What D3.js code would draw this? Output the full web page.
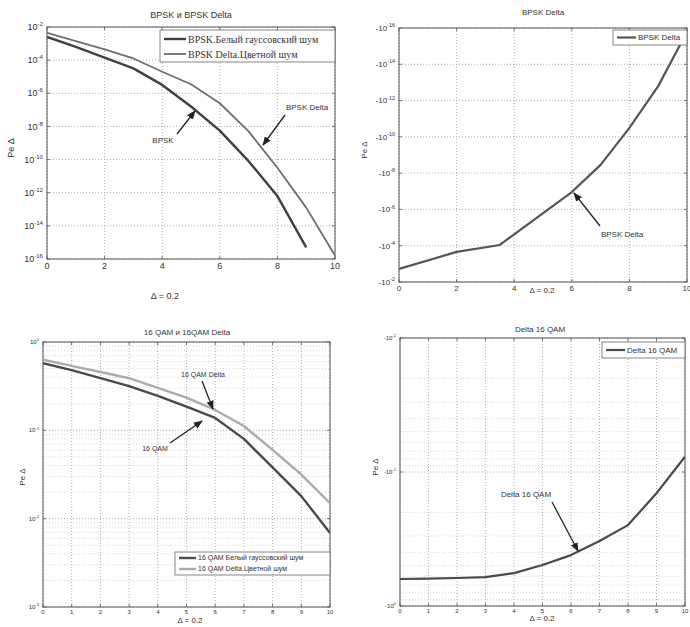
<!DOCTYPE html>
<html>
<head>
<meta charset="utf-8">
<script src="https://cdn.jsdelivr.net/npm/d3@7"></script>
<style>
body { margin: 0; background: #fff; }
text { font-family: "Liberation Sans", Arial, sans-serif; fill: #333; }
.grid line { stroke: #9a9a9a; stroke-dasharray: 1,2; stroke-width: 0.8; }
.minor line { stroke: #c4c4c4; stroke-dasharray: 1,2; stroke-width: 0.7; }
.frame { fill: none; stroke: #555; stroke-width: 1; }
</style>
</head>
<body>
<svg id="fig" width="690" height="627"></svg>
<script>
// BPSK / BPSK Delta (top left), Pe vs SNR
const snrX = [0, 1, 2, 3, 4, 5, 6, 7, 8, 9, 10];
const bpskPe = [2.5e-3, 6.3e-4, 1.4e-4, 3.2e-5, 3.2e-6, 1.6e-7, 5.6e-9, 8e-11, 6.3e-13, 5e-16];
const bpskDeltaPe = [4.4e-3, 1.4e-3, 4.5e-4, 1.26e-4, 2e-5, 3.5e-6, 2.5e-7, 5e-9, 3.2e-11, 1.26e-13, 1.6e-16];

// BPSK Delta alone (top right), negative log axis
const bpskDeltaX2 = [0, 2, 3.5, 6, 7, 8, 9, 10];
const bpskDeltaNeg = [-1.9e-3, -2.2e-4, -9.1e-5, -1.1e-7, -3.5e-9, -3.2e-11, -1.6e-13, -1.6e-16];

// 16 QAM / 16 QAM Delta (bottom left)
const qamPe = [0.575, 0.48, 0.39, 0.316, 0.245, 0.186, 0.138, 0.08, 0.038, 0.018, 0.0069];
const qamDeltaPe = [0.63, 0.537, 0.457, 0.389, 0.302, 0.234, 0.17, 0.112, 0.06, 0.0316, 0.015];

// Delta 16 QAM alone (bottom right), negative log axis
const qamDeltaNeg = [-0.629, -0.624, -0.618, -0.608, -0.568, -0.494, -0.417, -0.327, -0.249, -0.144, -0.077];

// tick labels
const xTicksEven = [0, 2, 4, 6, 8, 10];
const xTicksAll = [0, 1, 2, 3, 4, 5, 6, 7, 8, 9, 10];
const p1Exps = [-2, -4, -6, -8, -10, -12, -14, -16];
const p2Exps = [-16, -14, -12, -10, -8, -6, -4, -2];
const p3Exps = [0, -1, -2, -3];
const p4Exps = [-2, -1, 0];

const svg = d3.select("#fig");

svg.append("defs").append("marker")
    .attr("id", "arr")
    .attr("viewBox", "0 0 10 10")
    .attr("refX", 9).attr("refY", 5)
    .attr("markerWidth", 7).attr("markerHeight", 7)
    .attr("orient", "auto")
    .append("path")
    .attr("d", "M0,1 L10,5 L0,9 Z")
    .attr("fill", "#222");

// superscript label like 10^-4
function powLabel(g, x, y, prefix, exp, size, anchor) {
    const t = g.append("text")
        .attr("x", x).attr("y", y)
        .attr("font-size", size)
        .attr("text-anchor", anchor || "end");
    t.append("tspan").text(prefix);
    t.append("tspan").attr("dy", -size * 0.45).attr("font-size", size * 0.68).text(exp);
    return t;
}

function makePanel(o) {
    const g = svg.append("g");
    const x = d3.scaleLinear().domain([0, 10]).range([o.l, o.r]);
    const y = o.y;
    const clipId = "clip" + o.id;
    svg.select("defs").append("clipPath").attr("id", clipId)
        .append("rect").attr("x", o.l).attr("y", o.t).attr("width", o.r - o.l).attr("height", o.b - o.t);

    g.append("rect").attr("x", o.l).attr("y", o.t)
        .attr("width", o.r - o.l).attr("height", o.b - o.t).attr("fill", "#fff");

    // minor grid
    if (o.minor) {
        g.append("g").attr("class", "minor").selectAll("line")
            .data(o.minor).enter().append("line")
            .attr("x1", o.l).attr("x2", o.r)
            .attr("y1", d => y(d)).attr("y2", d => y(d));
    }
    // major grid
    const grid = g.append("g").attr("class", "grid");
    grid.selectAll(".gx").data(o.xTicks).enter().append("line")
        .attr("x1", d => x(d)).attr("x2", d => x(d))
        .attr("y1", o.t).attr("y2", o.b);
    grid.selectAll(".gy").data(o.yTicks).enter().append("line")
        .attr("x1", o.l).attr("x2", o.r)
        .attr("y1", d => y(d)).attr("y2", d => y(d));

    // inner tick marks
    const tk = g.append("g").attr("stroke", "#555").attr("stroke-width", 0.8);
    o.xTicks.forEach(d => {
        tk.append("line").attr("x1", x(d)).attr("x2", x(d)).attr("y1", o.b).attr("y2", o.b - 3);
        tk.append("line").attr("x1", x(d)).attr("x2", x(d)).attr("y1", o.t).attr("y2", o.t + 3);
    });
    o.yTicks.forEach(d => {
        tk.append("line").attr("x1", o.l).attr("x2", o.l + 3).attr("y1", y(d)).attr("y2", y(d));
        tk.append("line").attr("x1", o.r).attr("x2", o.r - 3).attr("y1", y(d)).attr("y2", y(d));
    });

    g.append("rect").attr("class", "frame")
        .attr("x", o.l).attr("y", o.t).attr("width", o.r - o.l).attr("height", o.b - o.t);

    // x tick labels
    g.selectAll(".xl").data(o.xTicks).enter().append("text")
        .attr("x", d => x(d)).attr("y", o.b + o.xFs + 1)
        .attr("font-size", o.xFs).attr("text-anchor", "middle")
        .text(d => d);
    // y tick labels
    o.yTicks.forEach((d, i) => {
        powLabel(g, o.l - 4, y(d) + o.yFs * 0.35, o.yPrefix, o.yExps[i], o.yFs);
    });

    g.append("text").attr("x", o.titleX).attr("y", o.titleY)
        .attr("font-size", o.titleFs).attr("text-anchor", "middle").text(o.title);
    g.append("text").attr("x", o.xlabX).attr("y", o.xlabY)
        .attr("font-size", o.titleFs).attr("text-anchor", "middle").text("\u0394 = 0.2");
    g.append("text")
        .attr("transform", `translate(${o.ylabX},${o.ylabY}) rotate(-90)`)
        .attr("font-size", o.titleFs).attr("text-anchor", "middle").text("Pe \u0394");

    const plot = g.append("g").attr("clip-path", `url(#${clipId})`);
    o.series.forEach(s => {
        const line = d3.line().x((d, i) => x(s.x[i])).y(d => y(d));
        plot.append("path").datum(s.v)
            .attr("d", line)
            .attr("fill", "none")
            .attr("stroke", s.color)
            .attr("stroke-width", s.width)
            .attr("stroke-linejoin", "round");
    });

    // legend
    const lg = o.legend;
    g.append("rect").attr("x", lg.x).attr("y", lg.y).attr("width", lg.w).attr("height", lg.h)
        .attr("fill", "#fff").attr("stroke", "#666").attr("stroke-width", 0.8);
    o.series.forEach((s, i) => {
        const yy = lg.y + lg.pad + i * lg.row;
        g.append("line").attr("x1", lg.x + 4).attr("x2", lg.x + 4 + lg.len)
            .attr("y1", yy).attr("y2", yy)
            .attr("stroke", s.color).attr("stroke-width", s.width);
        g.append("text").attr("x", lg.x + 6 + lg.len).attr("y", yy + lg.fs * 0.35)
            .attr("font-size", lg.fs)
            .style("font-family", lg.serif ? "'Liberation Serif', 'Times New Roman', serif" : null)
            .text(s.name);
    });

    // annotations
    o.notes.forEach(n => {
        g.append("line").attr("x1", n.x1).attr("y1", n.y1).attr("x2", n.x2).attr("y2", n.y2)
            .attr("stroke", "#222").attr("stroke-width", 1.3).attr("marker-end", "url(#arr)");
        g.append("text").attr("x", n.tx).attr("y", n.ty).attr("font-size", n.fs)
            .attr("text-anchor", "middle").text(n.text);
    });
}

function minorTicks(decades, sign) {
    const out = [];
    decades.forEach(d => {
        for (let m = 2; m <= 9; m++) out.push(sign * m * Math.pow(10, d));
    });
    return out;
}

// top left
makePanel({
    id: 1, l: 47, r: 335, t: 27, b: 259,
    y: d3.scaleLog().domain([1e-16, 1e-2]).range([259, 27]),
    xTicks: xTicksEven, yTicks: p1Exps.map(e => Math.pow(10, e)),
    yPrefix: "10", yExps: p1Exps, xFs: 9, yFs: 9,
    title: "BPSK \u0438 BPSK Delta", titleX: 191, titleY: 18, titleFs: 9,
    xlabX: 165, xlabY: 299, ylabX: 14, ylabY: 148,
    series: [
        {name: "BPSK.\u0411\u0435\u043b\u044b\u0439 \u0433\u0430\u0443\u0441\u0441\u043e\u0432\u0441\u043a\u0438\u0439 \u0448\u0443\u043c", x: snrX, v: bpskPe, color: "#404040", width: 2.4},
        {name: "BPSK Delta.\u0426\u0432\u0435\u0442\u043d\u043e\u0439 \u0448\u0443\u043c", x: snrX, v: bpskDeltaPe, color: "#6e6e6e", width: 1.8}
    ],
    legend: {x: 160, y: 30, w: 175, h: 32, pad: 9, row: 15, len: 22, fs: 10, serif: true},
    notes: [
        {text: "BPSK", tx: 163, ty: 143, fs: 8, x1: 177, y1: 134, x2: 195, y2: 111},
        {text: "BPSK Delta", tx: 307, ty: 110, fs: 8, x1: 285, y1: 115, x2: 263, y2: 145}
    ]
});

// top right
makePanel({
    id: 2, l: 399, r: 687, t: 28, b: 282,
    y: d3.scaleLog().domain([-1e-2, -1e-16]).range([282, 28]),
    xTicks: xTicksEven, yTicks: p2Exps.map(e => -Math.pow(10, e)),
    yPrefix: "-10", yExps: p2Exps, xFs: 8, yFs: 8,
    title: "BPSK Delta", titleX: 543, titleY: 15, titleFs: 8,
    xlabX: 542, xlabY: 293, ylabX: 367, ylabY: 150,
    series: [
        {name: "BPSK Delta", x: bpskDeltaX2, v: bpskDeltaNeg, color: "#555", width: 2.2}
    ],
    legend: {x: 613, y: 30, w: 74, h: 15, pad: 7.5, row: 0, len: 19, fs: 8},
    notes: [
        {text: "BPSK Delta", tx: 622, ty: 237, fs: 8, x1: 600, y1: 226, x2: 574, y2: 193}
    ]
});

// bottom left
makePanel({
    id: 3, l: 43, r: 330, t: 342, b: 607,
    y: d3.scaleLog().domain([1e-3, 1]).range([607, 342]),
    minor: minorTicks([-3, -2, -1], 1),
    xTicks: xTicksAll, yTicks: p3Exps.map(e => Math.pow(10, e)),
    yPrefix: "10", yExps: p3Exps, xFs: 6, yFs: 6,
    title: "16 QAM \u0438 16QAM Delta", titleX: 187, titleY: 335, titleFs: 8,
    xlabX: 190, xlabY: 623, ylabX: 25, ylabY: 477,
    series: [
        {name: "16 QAM \u0411\u0435\u043b\u044b\u0439 \u0433\u0430\u0443\u0441\u0441\u043e\u0432\u0441\u043a\u0438\u0439 \u0448\u0443\u043c", x: snrX, v: qamPe, color: "#4a4a4a", width: 2.4},
        {name: "16 QAM Delta.\u0426\u0432\u0435\u0442\u043d\u043e\u0439 \u0448\u0443\u043c", x: snrX, v: qamDeltaPe, color: "#ababab", width: 2.4}
    ],
    legend: {x: 175, y: 552, w: 155, h: 23, pad: 6, row: 11, len: 17, fs: 7},
    notes: [
        {text: "16 QAM Delta", tx: 203, ty: 377, fs: 7, x1: 202, y1: 381, x2: 213, y2: 409},
        {text: "16 QAM", tx: 155, ty: 451, fs: 7, x1: 170, y1: 443, x2: 202, y2: 421}
    ]
});

// bottom right
makePanel({
    id: 4, l: 400, r: 685, t: 338, b: 606,
    y: d3.scaleLog().domain([-1e-2, -1]).range([338, 606]),
    minor: minorTicks([-2, -1], -1),
    xTicks: xTicksAll, yTicks: p4Exps.map(e => -Math.pow(10, e)),
    yPrefix: "-10", yExps: p4Exps, xFs: 6, yFs: 6,
    title: "Delta 16 QAM", titleX: 540, titleY: 332, titleFs: 8,
    xlabX: 542, xlabY: 621, ylabX: 378, ylabY: 467,
    series: [
        {name: "Delta 16 QAM", x: snrX, v: qamDeltaNeg, color: "#4a4a4a", width: 2.2}
    ],
    legend: {x: 602, y: 342, w: 83, h: 16, pad: 8, row: 0, len: 19, fs: 8},
    notes: [
        {text: "Delta 16 QAM", tx: 526, ty: 497, fs: 8, x1: 552, y1: 502, x2: 578, y2: 551}
    ]
});
</script>
</body>
</html>
